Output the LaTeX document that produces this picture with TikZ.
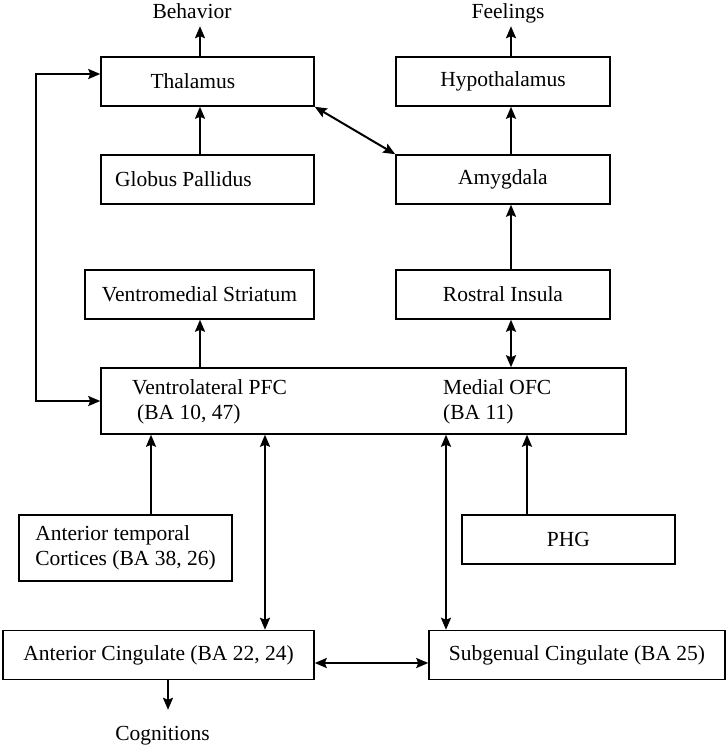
\documentclass[tikz,border=0pt]{standalone}
\usepackage{fontspec}
\setmainfont{Liberation Serif}
\usetikzlibrary{arrows.meta}

\begin{document}
\begin{tikzpicture}[x=1pt,y=-1pt,
  every node/.style={font=\fontsize{21.5}{25}\selectfont},
  box/.style={draw,line width=1.5pt,minimum height=49pt,inner sep=0pt},
  lbl/.style={inner sep=3pt,text height=15pt,text depth=5pt},
  arr/.style={line width=2pt,-{Stealth[length=12pt,width=10pt,inset=2pt]}},
  dbl/.style={line width=2pt,{Stealth[length=12pt,width=10pt,inset=2pt]}-{Stealth[length=12pt,width=10pt,inset=2pt]}}]
  \useasboundingbox (0,0) rectangle (728,748);
  % outputs
  \node (behav) [lbl] at (192,13) {Behavior};
  \node (feel) [lbl] at (508,13) {Feelings};
  \node (cogn) [lbl] at (162.5,735) {Cognitions};
  % top rows
  \node (thal) [box,minimum width=213pt] at (207.5,81.5) {\makebox[114pt][l]{Thalamus}};
  \node (hyp) [box,minimum width=214pt] at (503,81.5) {Hypothalamus};
  \node (gp) [box,minimum width=213pt] at (207.5,179.5) {\makebox[185pt][l]{Globus Pallidus}};
  \node (amyg) [box,minimum width=214pt] at (503,179.5) {Amygdala};
  \node (vms) [box,minimum width=229pt] at (199.5,294.5) {Ventromedial Striatum};
  \node (ins) [box,minimum width=214pt] at (503,294.5) {Rostral Insula};
  % prefrontal box
  \node (pfc) [box,minimum width=525pt,minimum height=66pt] at (363.5,401) {};
  \node (vl) [anchor=west,align=left,inner sep=0pt] at (132,402) {Ventrolateral PFC\\\hspace*{5pt}(BA 10, 47)};
  \node (ofc) [anchor=west,align=left,inner sep=0pt] at (443,402) {Medial OFC\\(BA 11)};
  % lower rows
  \node (atc) [box,minimum width=213pt,minimum height=66pt,align=left] at (125.5,548) {Anterior temporal\\Cortices (BA 38, 26)};
  \node (phg) [box,minimum width=213pt] at (568.5,539.5) {PHG};
  \node (acc) [box,minimum width=311pt] at (158.5,655) {Anterior Cingulate (BA 22, 24)};
  \node (sgc) [box,minimum width=296pt] at (577,655) {Subgenual Cingulate (BA 25)};
  \coordinate (loop) at (36,237);

  \draw[arr] ([xshift=-7.5pt]thal.north) -- ([xshift=-7.5pt]thal.north |- behav.south);
  \draw[arr] ([xshift=8pt]hyp.north) -- ([xshift=8pt]hyp.north |- feel.south);
  \draw[arr] ([xshift=-7.5pt]gp.north) -- ([xshift=-7.5pt]thal.south);
  \draw[arr] ([xshift=8pt]amyg.north) -- ([xshift=8pt]hyp.south);
  \draw[dbl] (thal.south east) -- (amyg.north west);
  \draw[arr] ([xshift=8pt]ins.north) -- ([xshift=8pt]amyg.south);
  \draw[arr] ([xshift=0.5pt]vms.south |- pfc.north) -- ([xshift=0.5pt]vms.south);
  \draw[dbl] ([xshift=8pt]ins.south) -- ([xshift=8pt]ins.south |- pfc.north);
  \draw[dbl] ([yshift=7.5pt]thal.west) -| (loop) |- (pfc.west);
  \draw[arr] ([xshift=25.5pt]atc.north) -- ([xshift=25.5pt]atc.north |- pfc.south);
  \draw[arr] ([xshift=-41.5pt]phg.north) -- ([xshift=-41.5pt]phg.north |- pfc.south);
  \draw[dbl] ([xshift=106.5pt]acc.north |- pfc.south) -- ([xshift=106.5pt]acc.north);
  \draw[dbl] ([xshift=-131pt]sgc.north |- pfc.south) -- ([xshift=-131pt]sgc.north);
  \draw[dbl] ([yshift=-8pt]acc.east) -- ([yshift=-8pt]sgc.west);
  \draw[arr,shorten >=12pt] ([xshift=9.5pt]acc.south) -- ([xshift=9.5pt]acc.south |- cogn.north);
\end{tikzpicture}
\end{document}
